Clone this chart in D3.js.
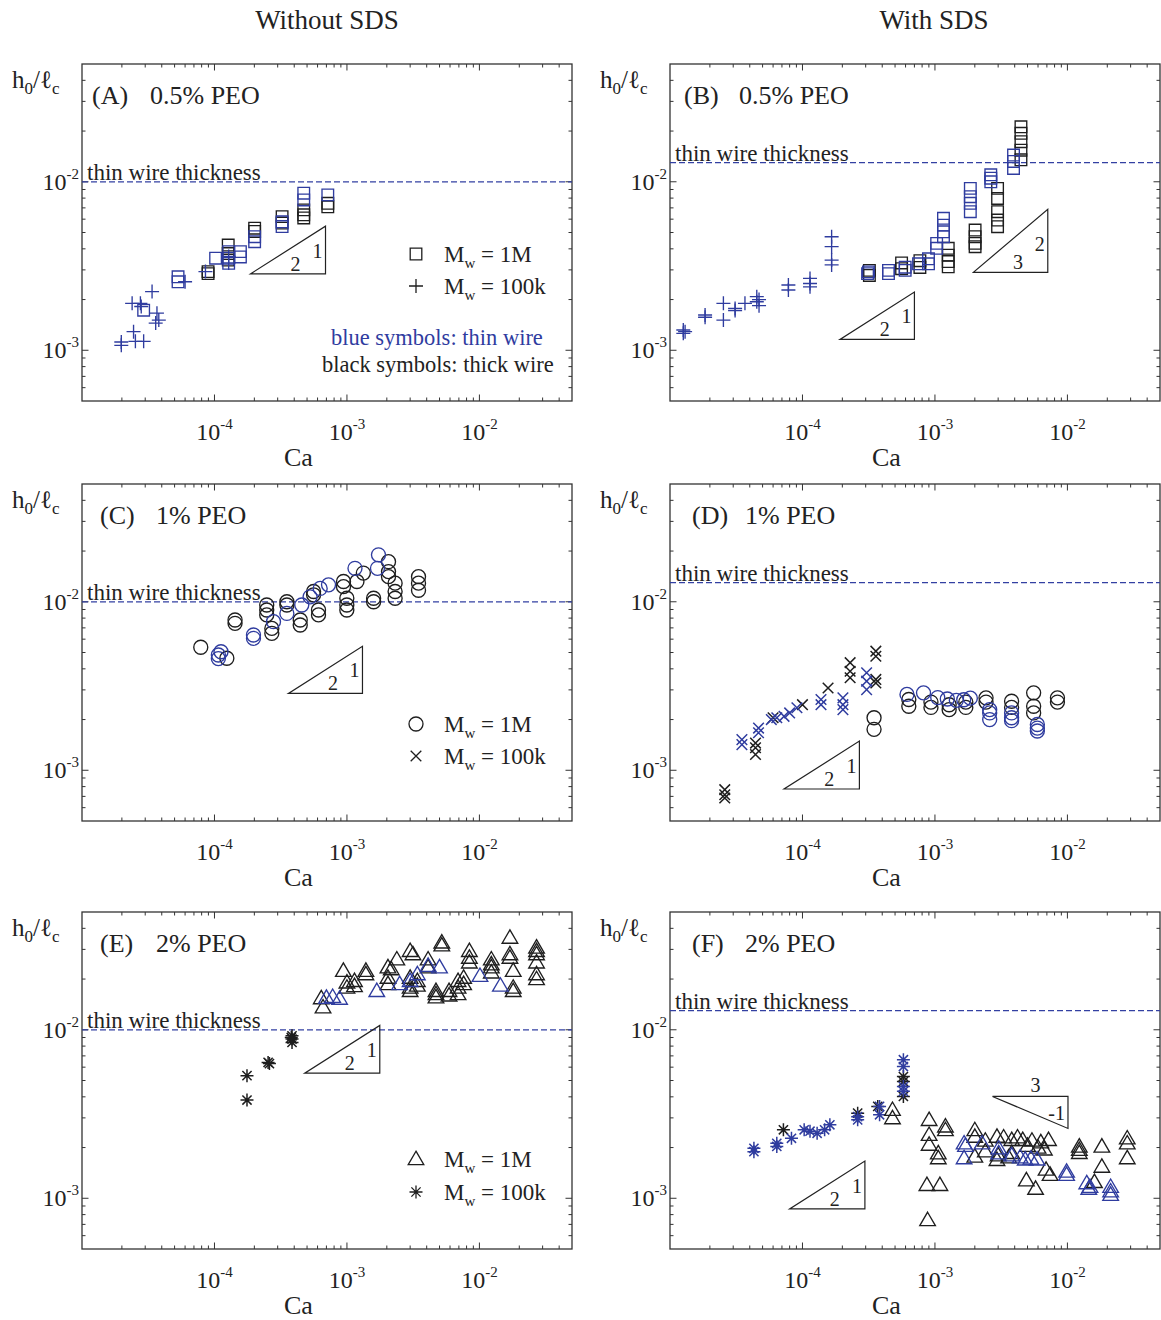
<!DOCTYPE html>
<html>
<head>
<meta charset="utf-8">
<script src="https://cdn.jsdelivr.net/npm/d3@7"></script>
<style>
  body { margin: 0; background: #fff; }
  text { font-family: "Liberation Serif", "DejaVu Serif", serif; fill: #222; }
</style>
</head>
<body>
<svg id="fig" width="1161" height="1320"></svg>
<script>
// ---- data: [Ca, h0/lc] ----
// (A) 0.5% PEO, without SDS
const A_thick_1M = [[8.95e-5,2.93e-3],[8.95e-5,2.85e-3],[1.27e-4,4.21e-3],[1.27e-4,3.75e-3],[1.27e-4,3.43e-3],[2.01e-4,5.30e-3],[2.01e-4,5.07e-3],[3.24e-4,6.21e-3],[3.24e-4,5.69e-3],[4.72e-4,6.81e-3],[4.72e-4,6.37e-3],[4.72e-4,6.10e-3],[7.17e-4,7.45e-3],[7.17e-4,7.10e-3]];
const A_thin_1M = [[2.92e-5,1.73e-3],[5.31e-5,2.73e-3],[5.31e-5,2.55e-3],[1.02e-4,3.52e-3],[1.28e-4,3.85e-3],[1.28e-4,3.52e-3],[1.28e-4,3.28e-3],[1.57e-4,3.85e-3],[1.57e-4,3.58e-3],[2.01e-4,4.72e-3],[2.01e-4,4.41e-3],[3.24e-4,5.79e-3],[3.24e-4,5.42e-3],[4.72e-4,8.55e-3],[4.72e-4,7.80e-3],[7.17e-4,8.36e-3]];
const A_thin_100k = [[1.98e-5,1.12e-3],[1.98e-5,1.07e-3],[2.45e-5,1.29e-3],[2.53e-5,1.13e-3],[2.92e-5,1.13e-3],[2.39e-5,1.90e-3],[2.76e-5,1.90e-3],[2.80e-5,1.82e-3],[3.38e-5,2.23e-3],[3.68e-5,1.66e-3],[3.80e-5,1.51e-3],[3.60e-5,1.45e-3],[6.00e-5,2.55e-3],[8.55e-5,2.93e-3],[1.28e-4,3.60e-3],[1.28e-4,3.30e-3]];
// (B) 0.5% PEO, with SDS
const B_thin_100k = [[1.26e-5,1.32e-3],[1.26e-5,1.26e-3],[1.30e-5,1.29e-3],[1.84e-5,1.62e-3],[1.84e-5,1.57e-3],[2.53e-5,1.90e-3],[2.53e-5,1.51e-3],[3.10e-5,1.77e-3],[3.10e-5,1.72e-3],[3.68e-5,1.90e-3],[4.52e-5,2.08e-3],[4.52e-5,1.94e-3],[4.70e-5,2.00e-3],[4.70e-5,1.84e-3],[7.83e-5,2.44e-3],[7.83e-5,2.28e-3],[1.14e-4,2.67e-3],[1.14e-4,2.49e-3],[1.14e-4,2.38e-3],[1.66e-4,4.72e-3],[1.66e-4,4.12e-3],[1.66e-4,3.43e-3],[1.66e-4,3.21e-3]];
const B_thick_1M = [[3.20e-4,2.98e-3],[3.20e-4,2.78e-3],[5.60e-4,3.30e-3],[5.60e-4,3.05e-3],[7.70e-4,3.40e-3],[7.70e-4,3.10e-3],[1.26e-3,4.03e-3],[1.26e-3,3.67e-3],[1.26e-3,3.36e-3],[1.26e-3,3.13e-3],[2.01e-3,5.17e-3],[2.01e-3,4.72e-3],[2.01e-3,4.31e-3],[2.01e-3,4.12e-3],[2.97e-3,9.14e-3],[2.97e-3,7.96e-3],[2.97e-3,6.64e-3],[2.97e-3,5.93e-3],[2.97e-3,5.41e-3],[4.46e-3,2.12e-2],[4.46e-3,1.94e-2],[4.46e-3,1.73e-2],[4.46e-3,1.54e-2],[4.46e-3,1.35e-2]];
const B_thin_1M = [[3.15e-4,2.92e-3],[3.10e-4,2.85e-3],[4.46e-4,2.98e-3],[4.46e-4,2.85e-3],[5.96e-4,3.11e-3],[5.96e-4,2.98e-3],[7.52e-4,3.26e-3],[8.94e-4,3.49e-3],[8.94e-4,3.26e-3],[1.03e-3,4.31e-3],[1.03e-3,4.03e-3],[1.16e-3,6.07e-3],[1.16e-3,5.53e-3],[1.16e-3,5.05e-3],[1.16e-3,4.72e-3],[1.85e-3,9.14e-3],[1.85e-3,8.15e-3],[1.85e-3,7.45e-3],[1.85e-3,6.64e-3],[2.64e-3,1.10e-2],[2.64e-3,1.05e-2],[2.64e-3,1.00e-2],[3.92e-3,1.44e-2],[3.92e-3,1.32e-2],[3.92e-3,1.20e-2]];
// (C) 1% PEO, without SDS
const C_thick_1M = [[7.88e-5,5.37e-3],[1.24e-4,4.62e-3],[1.43e-4,7.80e-3],[1.43e-4,7.45e-3],[2.48e-4,9.57e-3],[2.48e-4,8.94e-3],[2.48e-4,8.36e-3],[2.71e-4,6.95e-3],[2.71e-4,6.50e-3],[3.52e-4,1.00e-2],[3.52e-4,9.57e-3],[4.44e-4,7.80e-3],[4.44e-4,7.28e-3],[5.60e-4,1.15e-2],[5.60e-4,1.10e-2],[6.10e-4,8.94e-3],[6.10e-4,8.36e-3],[9.42e-4,1.32e-2],[9.42e-4,1.23e-2],[9.98e-4,1.05e-2],[9.98e-4,9.57e-3],[9.98e-4,8.94e-3],[1.19e-3,1.32e-2],[1.33e-3,1.48e-2],[1.59e-3,1.05e-2],[1.59e-3,1.00e-2],[2.06e-3,1.73e-2],[2.06e-3,1.51e-2],[2.06e-3,1.41e-2],[2.31e-3,1.29e-2],[2.31e-3,1.15e-2],[2.31e-3,1.05e-2],[3.47e-3,1.41e-2],[3.47e-3,1.29e-2],[3.47e-3,1.17e-2]];
const C_thin_1M = [[1.07e-4,4.83e-3],[1.12e-4,5.05e-3],[1.07e-4,4.60e-3],[1.97e-4,6.35e-3],[1.97e-4,6.07e-3],[2.79e-4,7.62e-3],[3.52e-4,8.53e-3],[4.56e-4,9.57e-3],[5.27e-4,1.07e-2],[6.28e-4,1.20e-2],[7.26e-4,1.26e-2],[1.15e-3,1.58e-2],[1.73e-3,1.90e-2],[1.70e-3,1.58e-2]];
// (D) 1% PEO, with SDS
const D_thick_100k = [[2.59e-5,7.16e-4],[2.59e-5,7.67e-4],[2.59e-5,6.85e-4],[4.42e-5,1.45e-3],[4.42e-5,1.36e-3],[4.42e-5,1.24e-3],[6.00e-5,2.05e-3],[1.00e-4,2.45e-3],[1.56e-4,3.08e-3],[2.29e-4,4.35e-3],[2.29e-4,3.87e-3],[2.29e-4,3.54e-3],[3.58e-4,5.09e-3],[3.58e-4,4.75e-3],[3.58e-4,3.46e-3],[3.58e-4,3.30e-3]];
const D_thin_100k = [[3.49e-5,1.52e-3],[3.49e-5,1.42e-3],[4.66e-5,1.78e-3],[4.66e-5,1.67e-3],[5.82e-5,2.00e-3],[6.40e-5,2.05e-3],[7.26e-5,2.09e-3],[8.00e-5,2.19e-3],[9.08e-5,2.35e-3],[1.38e-4,2.63e-3],[1.38e-4,2.45e-3],[2.02e-4,2.69e-3],[2.02e-4,2.45e-3],[2.02e-4,2.29e-3],[3.05e-4,3.79e-3],[3.05e-4,3.38e-3],[3.05e-4,3.01e-3]];
const D_thick_1M = [[3.47e-4,2.05e-3],[3.47e-4,1.75e-3],[6.35e-4,2.63e-3],[6.35e-4,2.40e-3],[9.33e-4,2.54e-3],[9.33e-4,2.36e-3],[1.28e-3,2.45e-3],[1.28e-3,2.29e-3],[1.71e-3,2.54e-3],[1.71e-3,2.36e-3],[2.43e-3,2.69e-3],[2.43e-3,2.54e-3],[3.79e-3,2.57e-3],[3.79e-3,2.36e-3],[5.56e-3,2.88e-3],[5.56e-3,2.40e-3],[5.56e-3,2.19e-3],[8.41e-3,2.69e-3],[8.41e-3,2.54e-3]];
const D_thin_1M = [[6.15e-4,2.82e-3],[8.20e-4,2.88e-3],[1.05e-3,2.70e-3],[1.24e-3,2.65e-3],[1.45e-3,2.60e-3],[1.65e-3,2.62e-3],[1.85e-3,2.68e-3],[2.59e-3,2.29e-3],[2.59e-3,2.19e-3],[2.59e-3,2.00e-3],[3.79e-3,2.19e-3],[3.79e-3,2.05e-3],[3.79e-3,1.97e-3],[5.93e-3,1.87e-3],[5.93e-3,1.78e-3],[5.93e-3,1.71e-3]];
// (E) 2% PEO, without SDS
const E_thick_100k = [[1.76e-4,5.34e-3],[1.76e-4,3.83e-3],[2.54e-4,6.40e-3],[2.60e-4,6.30e-3],[3.85e-4,9.21e-3],[3.85e-4,8.81e-3],[3.85e-4,8.41e-3],[3.80e-4,9.00e-3]];
const E_thick_1M = [[6.4e-4,1.54e-2],[6.6e-4,1.36e-2],[9.4e-4,2.24e-2],[1.0e-3,1.78e-2],[1.0e-3,1.91e-2],[1.14e-3,1.95e-2],[1.14e-3,1.82e-2],[1.39e-3,2.24e-2],[1.39e-3,2.14e-2],[2.04e-3,2.04e-2],[2.04e-3,1.87e-2],[2.16e-3,2.29e-2],[2.38e-3,2.62e-2],[2.04e-3,2.35e-2],[3.0e-3,2.94e-2],[3.15e-3,2.81e-2],[3.0e-3,2.04e-2],[3.0e-3,1.78e-2],[3.0e-3,1.70e-2],[3.4e-3,1.95e-2],[3.4e-3,1.83e-2],[4.1e-3,2.62e-2],[4.1e-3,2.35e-2],[4.7e-3,1.70e-2],[4.7e-3,1.63e-2],[4.7e-3,1.56e-2],[5.2e-3,3.30e-2],[5.2e-3,3.17e-2],[5.9e-3,1.70e-2],[5.9e-3,1.60e-2],[6.9e-3,1.95e-2],[6.9e-3,1.78e-2],[6.9e-3,1.63e-2],[7.6e-3,2.04e-2],[7.6e-3,1.87e-2],[8.4e-3,2.94e-2],[8.4e-3,2.68e-2],[8.4e-3,2.51e-2],[1.23e-2,2.62e-2],[1.23e-2,2.45e-2],[1.23e-2,2.35e-2],[1.23e-2,2.19e-2],[1.7e-2,3.52e-2],[1.7e-2,2.81e-2],[1.7e-2,2.68e-2],[1.8e-2,2.24e-2],[1.8e-2,1.78e-2],[1.8e-2,1.70e-2],[2.7e-2,3.08e-2],[2.7e-2,2.94e-2],[2.7e-2,2.81e-2],[2.7e-2,2.51e-2],[2.7e-2,2.14e-2],[2.7e-2,2.00e-2]];
const E_thin_1M = [[7.0e-4,1.55e-2],[7.8e-4,1.57e-2],[8.8e-4,1.53e-2],[1.68e-3,1.70e-2],[2.5e-3,1.87e-2],[3.0e-3,1.95e-2],[3.4e-3,2.14e-2],[4.1e-3,2.40e-2],[5.0e-3,2.35e-2],[1.01e-2,2.09e-2],[1.44e-2,1.83e-2]];
// (F) 2% PEO, with SDS
const F_thick_100k = [[7.18e-5,2.55e-3],[2.61e-4,3.20e-3],[3.70e-4,3.51e-3],[5.78e-4,5.28e-3],[5.78e-4,4.93e-3],[5.78e-4,4.02e-3]];
const F_thin_100k = [[4.3e-5,1.98e-3],[4.3e-5,1.89e-3],[6.4e-5,2.12e-3],[6.4e-5,2.03e-3],[8.26e-5,2.27e-3],[1.03e-4,2.55e-3],[1.14e-4,2.50e-3],[1.29e-4,2.43e-3],[1.47e-4,2.55e-3],[1.61e-4,2.73e-3],[2.61e-4,3.05e-3],[2.61e-4,2.92e-3],[3.82e-4,3.51e-3],[3.82e-4,3.13e-3],[5.78e-4,6.64e-3],[5.78e-4,6.05e-3],[5.78e-4,4.60e-3],[5.78e-4,4.31e-3]];
const F_thick_1M = [[4.78e-4,3.35e-3],[4.78e-4,2.99e-3],[9.04e-4,2.92e-3],[9.04e-4,2.38e-3],[9.04e-4,2.08e-3],[1.06e-3,1.85e-3],[1.06e-3,1.73e-3],[1.2e-3,2.67e-3],[1.2e-3,2.54e-3],[8.7e-4,1.2e-3],[1.09e-3,1.2e-3],[8.8e-4,7.43e-4],[2.0e-3,2.54e-3],[2.0e-3,2.32e-3],[2.0e-3,1.77e-3],[2.94e-3,2.32e-3],[2.94e-3,1.69e-3],[3.8e-3,2.22e-3],[4.6e-3,2.22e-3],[5.4e-3,2.20e-3],[6.3e-3,2.15e-3],[7.2e-3,2.22e-3],[3.8e-3,1.86e-3],[4.9e-3,1.28e-3],[5.75e-3,1.14e-3],[6.9e-3,1.48e-3],[7.4e-3,1.38e-3],[1.23e-2,2.03e-3],[1.23e-2,1.94e-3],[1.23e-2,1.86e-3],[1.82e-2,2.03e-3],[1.82e-2,1.54e-3],[1.6e-2,1.25e-3],[2.83e-2,2.27e-3],[2.83e-2,2.12e-3],[2.83e-2,1.73e-3],[2.4e-3,2.2e-3],[3.3e-3,2.3e-3],[4.2e-3,2.3e-3],[5.0e-3,2.05e-3],[6.0e-3,2.0e-3],[6.7e-3,1.95e-3],[2.4e-3,1.9e-3],[3.0e-3,1.8e-3],[3.6e-3,1.75e-3]];
const F_thin_1M = [[1.66e-3,2.12e-3],[1.66e-3,1.73e-3],[1.7e-3,2.05e-3],[2.27e-3,2.12e-3],[3.03e-3,1.98e-3],[3.03e-3,1.85e-3],[3.8e-3,1.80e-3],[4.4e-3,1.75e-3],[4.8e-3,1.70e-3],[5.3e-3,1.72e-3],[5.9e-3,1.70e-3],[9.86e-3,1.44e-3],[9.86e-3,1.38e-3],[1.4e-2,1.23e-3],[1.48e-2,1.17e-3],[1.45e-2,1.14e-3],[2.12e-2,1.17e-3],[2.12e-2,1.05e-3],[2.12e-2,1.10e-3]];

// axis tick values
const xMajor = [1e-4, 1e-3, 1e-2];
const yMajor = [1e-3, 1e-2];
const xTickLabels = ["-4", "-3", "-2"];
const yTickLabels = ["-3", "-2"];
const columnTitles = ["Without SDS", "With SDS"];

// slope guides: [Ca start, Ca end, h at start, rise, run]
const slopesA = [[1.87e-4, 6.89e-4, 2.84e-3, 1, 2]];
const slopesB = [[1.92e-4, 7.0e-4, 1.16e-3, 1, 2], [1.95e-3, 7.11e-3, 2.90e-3, 2, 3]];
const slopesC = [[3.62e-4, 1.31e-3, 2.86e-3, 1, 2]];
const slopesD = [[7.26e-5, 2.69e-4, 7.74e-4, 1, 2]];
const slopesE = [[4.8e-4, 1.77e-3, 5.53e-3, 1, 2]];
const slopesF = [[8.0e-5, 2.96e-4, 8.65e-4, 1, 2], [2.72e-3, 1.01e-2, 4.02e-3, -1, 3]];

// thin wire thickness level per panel
const wireLevel = { A: 1e-2, B: 1.3e-2, C: 1e-2, D: 1.3e-2, E: 1e-2, F: 1.3e-2 };

const BLUE = "#2f3c9f";
const BLACK = "#1e1e1e";

const W = 490, H = 337;
const x = d3.scaleLog().domain([1e-5, 5e-2]).range([0, W]);
const y = d3.scaleLog().domain([5e-4, 5e-2]).range([H, 0]);

const panels = [
  { id: "A", x0: 82,  y0: 64,  tag: "(A)", conc: "0.5% PEO", tagDx: 10, concDx: 68, slopes: slopesA,
    series: [[A_thick_1M, "square", BLACK], [A_thin_1M, "square", BLUE], [A_thin_100k, "plus", BLUE]],
    legend: ["square", "plus"], notes: true },
  { id: "B", x0: 670, y0: 64,  tag: "(B)", conc: "0.5% PEO", tagDx: 14, concDx: 69, slopes: slopesB,
    series: [[B_thin_100k, "plus", BLUE], [B_thick_1M, "square", BLACK], [B_thin_1M, "square", BLUE]] },
  { id: "C", x0: 82,  y0: 484, tag: "(C)", conc: "1% PEO", tagDx: 18, concDx: 74, slopes: slopesC,
    series: [[C_thick_1M, "circle", BLACK], [C_thin_1M, "circle", BLUE]],
    legend: ["circle", "cross"] },
  { id: "D", x0: 670, y0: 484, tag: "(D)", conc: "1% PEO", tagDx: 22, concDx: 75, slopes: slopesD,
    series: [[D_thick_100k, "cross", BLACK], [D_thin_100k, "cross", BLUE], [D_thick_1M, "circle", BLACK], [D_thin_1M, "circle", BLUE]] },
  { id: "E", x0: 82,  y0: 912, tag: "(E)", conc: "2% PEO", tagDx: 18, concDx: 74, slopes: slopesE,
    series: [[E_thick_100k, "asterisk", BLACK], [E_thick_1M, "triangle", BLACK], [E_thin_1M, "triangle", BLUE]],
    legend: ["triangle", "asterisk"] },
  { id: "F", x0: 670, y0: 912, tag: "(F)", conc: "2% PEO", tagDx: 22, concDx: 75, slopes: slopesF,
    series: [[F_thick_100k, "asterisk", BLACK], [F_thin_100k, "asterisk", BLUE], [F_thick_1M, "triangle", BLACK], [F_thin_1M, "triangle", BLUE]] }
];

function markerPath(type) {
  switch (type) {
    case "square": { const s = 5.8; return `M${-s},${-s}H${s}V${s}H${-s}Z`; }
    case "circle": { const r = 7; return `M${r},0A${r},${r} 0 1,1 ${-r},0A${r},${r} 0 1,1 ${r},0Z`; }
    case "triangle": return "M0,-7.8L7.8,5.6L-7.8,5.6Z";
    case "plus": { const s = 7; return `M${-s},0H${s}M0,${-s}V${s}`; }
    case "cross": { const s = 5.3; return `M${-s},${-s}L${s},${s}M${-s},${s}L${s},${-s}`; }
    case "asterisk": { const s = 6.5, t = 4.6; return `M${-s},0H${s}M0,${-s}V${s}M${-t},${-t}L${t},${t}M${-t},${t}L${t},${-t}`; }
  }
}

const svg = d3.select("#fig");

// column titles
svg.selectAll("text.coltitle").data(columnTitles).join("text")
  .attr("class", "coltitle")
  .attr("x", (d, i) => [327, 934][i]).attr("y", 29)
  .attr("text-anchor", "middle").attr("font-size", 27)
  .text(d => d);

panels.forEach(p => {
  const g = svg.append("g").attr("transform", `translate(${p.x0},${p.y0})`);

  // minor & major tick positions
  const xMinor = [], yMinor = [];
  for (let e = -5; e <= -2; e++) for (let k = 2; k <= 9; k++) {
    const v = k * Math.pow(10, e);
    if (v < 5e-2) xMinor.push(v);
  }
  for (let e = -4; e <= -2; e++) for (let k = 2; k <= 9; k++) {
    const v = k * Math.pow(10, e);
    if (v > 5e-4 && v < 5e-2) yMinor.push(v);
  }
  const tickG = g.append("g").attr("stroke", "#333").attr("stroke-width", 1);
  const addX = (vals, len) => vals.forEach(v => {
    tickG.append("line").attr("x1", x(v)).attr("x2", x(v)).attr("y1", H).attr("y2", H - len);
    tickG.append("line").attr("x1", x(v)).attr("x2", x(v)).attr("y1", 0).attr("y2", len);
  });
  const addY = (vals, len) => vals.forEach(v => {
    tickG.append("line").attr("y1", y(v)).attr("y2", y(v)).attr("x1", 0).attr("x2", len);
    tickG.append("line").attr("y1", y(v)).attr("y2", y(v)).attr("x1", W).attr("x2", W - len);
  });
  addX(xMinor, 3.5); addX(xMajor, 6.5);
  addY(yMinor, 3.5); addY(yMajor, 6.5);

  // frame
  g.append("rect").attr("width", W).attr("height", H)
    .attr("fill", "none").attr("stroke", "#333").attr("stroke-width", 1.3);

  // tick labels
  xMajor.forEach((v, i) => {
    const t = g.append("text").attr("x", x(v)).attr("y", H + 39)
      .attr("text-anchor", "middle").attr("font-size", 24);
    t.append("tspan").text("10");
    t.append("tspan").attr("dy", -11).attr("font-size", 15).text(xTickLabels[i]);
  });
  yMajor.forEach((v, i) => {
    const t = g.append("text").attr("x", -3).attr("y", y(v) + 8)
      .attr("text-anchor", "end").attr("font-size", 24);
    t.append("tspan").text("10");
    t.append("tspan").attr("dy", -11).attr("font-size", 15).text(yTickLabels[i]);
  });

  // axis titles
  g.append("text").attr("x", 202).attr("y", H + 65).attr("font-size", 26).text("Ca");
  const yl = g.append("text").attr("x", -70).attr("y", 24).attr("font-size", 25);
  yl.append("tspan").text("h");
  yl.append("tspan").attr("dy", 6).attr("font-size", 17).text("0");
  yl.append("tspan").attr("dy", -6).text("/\u2113");
  yl.append("tspan").attr("dy", 6).attr("font-size", 17).text("c");

  // panel tag
  g.append("text").attr("x", p.tagDx).attr("y", 40).attr("font-size", 26).text(p.tag);
  g.append("text").attr("x", p.concDx).attr("y", 40).attr("font-size", 26).text(p.conc);

  // thin wire thickness level
  const wy = y(wireLevel[p.id]);
  g.append("line").attr("x1", 0).attr("x2", W).attr("y1", wy).attr("y2", wy)
    .attr("stroke", "#3340a2").attr("stroke-width", 1.3).attr("stroke-dasharray", "6,3");
  g.append("text").attr("x", 5).attr("y", wy - 2).attr("font-size", 23).text("thin wire thickness");

  // slope guides
  p.slopes.forEach(([c0, c1, h0, rise, run]) => {
    const h1 = h0 * Math.pow(c1 / c0, rise / run);
    const xa = x(c0), xb = x(c1), ya = y(h0), yb = y(h1);
    g.append("path").attr("d", `M${xa},${ya}L${xb},${ya}L${xb},${yb}Z`)
      .attr("fill", "none").attr("stroke", "#222").attr("stroke-width", 1.2);
    const hgt = Math.abs(ya - yb);
    if (rise > 0) {
      g.append("text").attr("x", xa + 0.6 * (xb - xa)).attr("y", ya - 3)
        .attr("text-anchor", "middle").attr("font-size", 20).text(run);
      g.append("text").attr("x", xb - 3).attr("y", ya - 0.34 * hgt)
        .attr("text-anchor", "end").attr("font-size", 20).text(rise);
    } else {
      g.append("text").attr("x", xa + 0.57 * (xb - xa)).attr("y", ya - 4)
        .attr("text-anchor", "middle").attr("font-size", 20).text(run);
      g.append("text").attr("x", xb - 3).attr("y", ya + 0.75 * hgt)
        .attr("text-anchor", "end").attr("font-size", 20).text(rise);
    }
  });

  // data markers
  p.series.forEach(([data, shape, color]) => {
    g.append("g").selectAll("path").data(data).join("path")
      .attr("transform", d => `translate(${x(d[0])},${y(d[1])})`)
      .attr("d", markerPath(shape))
      .attr("fill", "none").attr("stroke", color)
      .attr("stroke-width", shape === "cross" || shape === "asterisk" ? 1.5 : 1.35);
  });

  // legend
  if (p.legend) {
    const rows = p.id === "A" ? [190, 222] : p.id === "C" ? [240, 272] : [247, 280];
    const labels = ["1M", "100k"];
    p.legend.forEach((shape, i) => {
      g.append("path").attr("transform", `translate(334,${rows[i]})`)
        .attr("d", markerPath(shape)).attr("fill", "none").attr("stroke", BLACK).attr("stroke-width", 1.3);
      const t = g.append("text").attr("x", 362).attr("y", rows[i] + 8).attr("font-size", 23);
      t.append("tspan").text("M");
      t.append("tspan").attr("dy", 6).attr("font-size", 15).text("w");
      t.append("tspan").attr("dy", -6).text(" = " + labels[i]);
    });
  }
  if (p.notes) {
    g.append("text").attr("x", 249).attr("y", 281).attr("font-size", 22.5)
      .style("fill", BLUE).text("blue symbols: thin wire");
    g.append("text").attr("x", 240).attr("y", 308).attr("font-size", 22.5)
      .text("black symbols: thick wire");
  }
});
</script>
</body>
</html>
